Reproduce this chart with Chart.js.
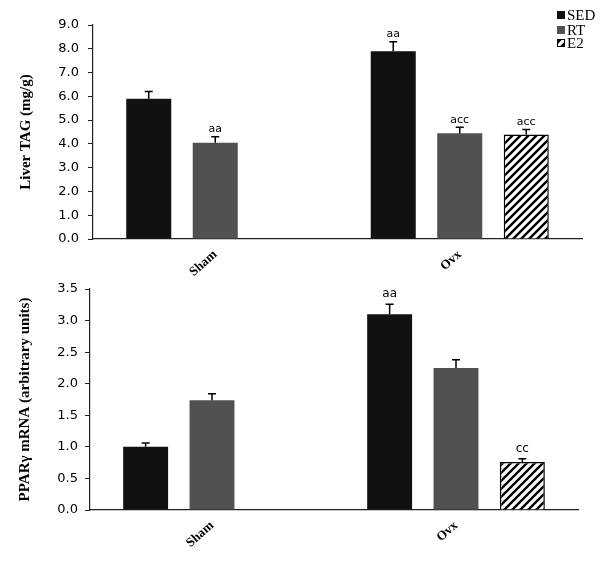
<!DOCTYPE html>
<html>
<head>
<meta charset="utf-8">
<script src="https://cdn.jsdelivr.net/npm/chart.js@4.4.0/dist/chart.umd.min.js"></script>
<style>
  html,body{margin:0;padding:0;background:#fff;}
  #wrap{position:relative;width:609px;height:562px;}
  canvas{position:absolute;left:0;}
</style>
</head>
<body>
<div id="wrap">
  <canvas id="c1" width="609" height="285" style="top:0;width:609px;height:285px"></canvas>
  <canvas id="c2" width="609" height="292" style="top:270px;width:609px;height:292px"></canvas>
</div>
<script>
// ---------- data ----------
const categories = ['Sham', 'Ovx'];
const seriesNames = ['SED', 'RT', 'E2'];

const tagSED = [5.9, 7.9];
const tagRT  = [4.05, 4.45];
const tagE2  = [null, 4.4];
const tagErrSED = [0.3, 0.4];
const tagErrRT  = [0.25, 0.25];
const tagErrE2  = [null, 0.2];
const tagSigSED = ['', 'aa'];
const tagSigRT  = ['aa', 'acc'];
const tagSigE2  = ['', 'acc'];

const pparSED = [1.0, 3.1];
const pparRT  = [1.74, 2.25];
const pparE2  = [null, 0.76];
const pparErrSED = [0.06, 0.16];
const pparErrRT  = [0.1, 0.13];
const pparErrE2  = [null, 0.05];
const pparSigSED = ['', 'aa'];
const pparSigRT  = ['', ''];
const pparSigE2  = ['', 'cc'];

// ---------- styles ----------
function hatch() {
  const s = 8, c = document.createElement('canvas');
  c.width = s; c.height = s;
  const g = c.getContext('2d');
  g.fillStyle = '#fff'; g.fillRect(0, 0, s, s);
  g.strokeStyle = '#000'; g.lineWidth = 2.4;
  g.beginPath();
  g.moveTo(0, s); g.lineTo(s, 0);
  g.moveTo(-2, 2); g.lineTo(2, -2);
  g.moveTo(s - 2, s + 2); g.lineTo(s + 2, s - 2);
  g.stroke();
  return document.getElementById('c1').getContext('2d').createPattern(c, 'repeat');
}
const hatchFill = hatch();
const colSED = '#111111', colRT = '#515151';

const errPlugin = {
  id: 'errbars',
  afterDatasetsDraw(chart) {
    const ctx = chart.ctx;
    const o = chart.options.plugins.errbars;
    chart.data.datasets.forEach((ds, di) => {
      const meta = chart.getDatasetMeta(di);
      meta.data.forEach((bar, i) => {
        const v = ds.data[i];
        if (v == null) return;
        const e = ds.errors[i];
        const ys = chart.scales.y;
        const yTop = ys.getPixelForValue(v + e);
        const yBar = ys.getPixelForValue(v);
        ctx.save();
        ctx.strokeStyle = '#000'; ctx.lineWidth = 1.5;
        ctx.beginPath();
        ctx.moveTo(bar.x, yBar); ctx.lineTo(bar.x, yTop);
        ctx.moveTo(bar.x - 4, yTop); ctx.lineTo(bar.x + 4, yTop);
        ctx.stroke();
        const t = ds.sig[i];
        if (t) {
          ctx.fillStyle = '#000';
          ctx.font = o.font;
          ctx.textAlign = 'center';
          ctx.textBaseline = 'bottom';
          ctx.fillText(t, bar.x, yTop - o.gap);
        }
        ctx.restore();
      });
    });
  }
};

const legendPlugin = {
  id: 'boxlegend',
  afterDraw(chart) {
    const o = chart.options.plugins.boxlegend;
    if (!o.show) return;
    const ctx = chart.ctx;
    const ys = [15, 30, 43];
    chart.data.datasets.forEach((ds, i) => {
      ctx.save();
      ctx.fillStyle = ds.backgroundColor;
      ctx.fillRect(557, ys[i] - 4, 8, 8);
      if (ds.borderWidth) {
        ctx.strokeStyle = '#000'; ctx.lineWidth = 1;
        ctx.strokeRect(557.5, ys[i] - 3.5, 7, 7);
      }
      ctx.fillStyle = '#000';
      ctx.font = '15px "Liberation Serif"';
      ctx.textAlign = 'left'; ctx.textBaseline = 'middle';
      ctx.fillText(ds.label, 567, ys[i] + 1);
      ctx.restore();
    });
  }
};

function makeChart(id, sets, yMax, yStep, title, geom, sigOpts, showLegend) {
  const datasets = sets.map((s, i) => ({
    label: seriesNames[i],
    data: s.data,
    errors: s.err,
    sig: s.sig,
    backgroundColor: [colSED, colRT, hatchFill][i],
    borderColor: '#000',
    borderWidth: i === 2 ? 1.5 : 0,
    categoryPercentage: 0.816,
    barPercentage: 0.677
  }));
  return new Chart(document.getElementById(id), {
    type: 'bar',
    data: { labels: categories, datasets },
    options: {
      responsive: false,
      animation: false,
      layout: { padding: { left: 0, right: geom.right, top: geom.top, bottom: 0 } },
      plugins: {
        legend: { display: false },
        tooltip: { enabled: false },
        errbars: sigOpts,
        boxlegend: { show: showLegend }
      },
      scales: {
        x: {
          grid: { display: false },
          border: { display: true, color: '#222', width: 1.2 },
          ticks: {
            color: '#000',
            minRotation: 42, maxRotation: 42,
            padding: 0,
            font: { family: '"Liberation Serif"', size: 13, weight: 'bold' }
          },
          afterFit(s) { s.height = geom.xh; }
        },
        y: {
          min: 0, max: yMax,
          ticks: {
            stepSize: yStep,
            color: '#000',
            padding: geom.tpad,
            font: { family: '"DejaVu Sans"', size: 13 },
            callback: v => Number(v).toFixed(1)
          },
          grid: { display: true, drawOnChartArea: false, drawTicks: true, tickLength: 5, color: '#222' },
          border: { display: true, color: '#222', width: 1.2 },
          title: {
            display: true, text: title, color: '#000',
            font: { family: '"Liberation Serif"', size: 15, weight: 'bold' },
            padding: { top: geom.titlePad, bottom: 0 }
          },
          afterFit(s) { s.width = geom.yw; }
        }
      }
    },
    plugins: [errPlugin, legendPlugin]
  });
}

makeChart('c1', [
  { data: tagSED, err: tagErrSED, sig: tagSigSED },
  { data: tagRT, err: tagErrRT, sig: tagSigRT },
  { data: tagE2, err: tagErrE2, sig: tagSigE2 }
], 9, 1, 'Liver TAG (mg/g)',
  { right: 27, top: 25, xh: 46, yw: 93, tpad: 9, titlePad: 17 },
  { font: '11px "DejaVu Sans"', gap: 2 }, true);

makeChart('c2', [
  { data: pparSED, err: pparErrSED, sig: pparSigSED },
  { data: pparRT, err: pparErrRT, sig: pparSigRT },
  { data: pparE2, err: pparErrE2, sig: pparSigE2 }
], 3.5, 0.5, 'PPARγ mRNA (arbitrary units)',
  { right: 31, top: 19, xh: 52, yw: 90, tpad: 7, titlePad: 16 },
  { font: '12px "DejaVu Sans"', gap: 4 }, false);
</script>
</body>
</html>
